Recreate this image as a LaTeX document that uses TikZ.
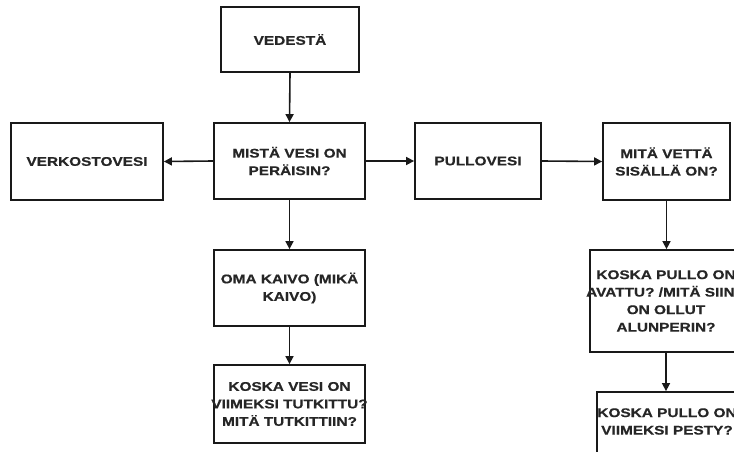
\documentclass[tikz,border=0pt]{standalone}
\usepackage{fontspec}
\newfontfamily\lblfont[FakeStretch=1.22,BoldFeatures={FakeBold=0.6}]{Liberation Sans}
\usetikzlibrary{arrows.meta}
\begin{document}
\begin{tikzpicture}[x=1pt,y=-1pt,
  box/.style={draw=black!90,line width=1.8pt,rectangle,inner sep=0pt},
  txt/.style={align=center,inner sep=0pt,text=black!85,font=\lblfont\bfseries\fontsize{12.6}{17.5}\selectfont},
  arr/.style={draw=black!90,line width=1.6pt,-{Triangle[length=8pt,width=8pt]}}]
\useasboundingbox (0,0) rectangle (734,452);
\clip (0,0) rectangle (734,452);
\fill[white] (0,0) rectangle (734,452);
% boxes
\node[box,minimum width=138,minimum height=65] (ved) at (290,39.5) {};
\node[box,minimum width=151,minimum height=76] (mis) at (289.5,161) {};
\node[box,minimum width=152,minimum height=77] (ver) at (87,161.5) {};
\node[box,minimum width=126,minimum height=76] (pul) at (478,161) {};
\node[box,minimum width=127,minimum height=77] (mit) at (666.5,161.5) {};
\node[box,minimum width=151,minimum height=76] (oma) at (289.5,288) {};
\node[box,minimum width=151,minimum height=78] (kve) at (289.5,404) {};
\node[box,minimum width=152,minimum height=102] (kav) at (666,301) {};
\node[box,minimum width=140,minimum height=80] (kpe) at (667,432) {};
% texts
\node[txt] (tved) at (ved) {VEDESTÄ};
\node[txt] (tmis) at (mis) {MISTÄ VESI ON\\PERÄISIN?};
\node[txt] (tver) at (ver) {VERKOSTOVESI};
\node[txt] (tpul) at (pul) {PULLOVESI};
\node[txt] (tmit) at (mit) {MITÄ VETTÄ\\SISÄLLÄ ON?};
\node[txt] (toma) at (oma) {OMA KAIVO (MIKÄ\\KAIVO)};
\node[txt] (tkve) at (kve) {KOSKA VESI ON\\VIIMEKSI TUTKITTU?\\MITÄ TUTKITTIIN?};
\node[txt] (tkav) at (kav) {KOSKA PULLO ON\\AVATTU? /MITÄ SIINÄ\\ON OLLUT\\ALUNPERIN?};
\node[txt] (tkpe) at (667,421.5) {KOSKA PULLO ON\\VIIMEKSI PESTY?};
% connectors
\draw[arr] (ved.south) -- (mis.north);
\draw[arr] (mis.west) -- (ver.east);
\draw[arr] (mis.east) -- (pul.west);
\draw[arr] (pul.east) -- (mit.west);
\draw[arr] (mis.south) -- (oma.north);
\draw[arr] (oma.south) -- (kve.north);
\draw[arr] (mit.south) -- (mit.south|-kav.north);
\draw[arr] (kav.south) -- (kav.south|-kpe.north);
\end{tikzpicture}
\end{document}
